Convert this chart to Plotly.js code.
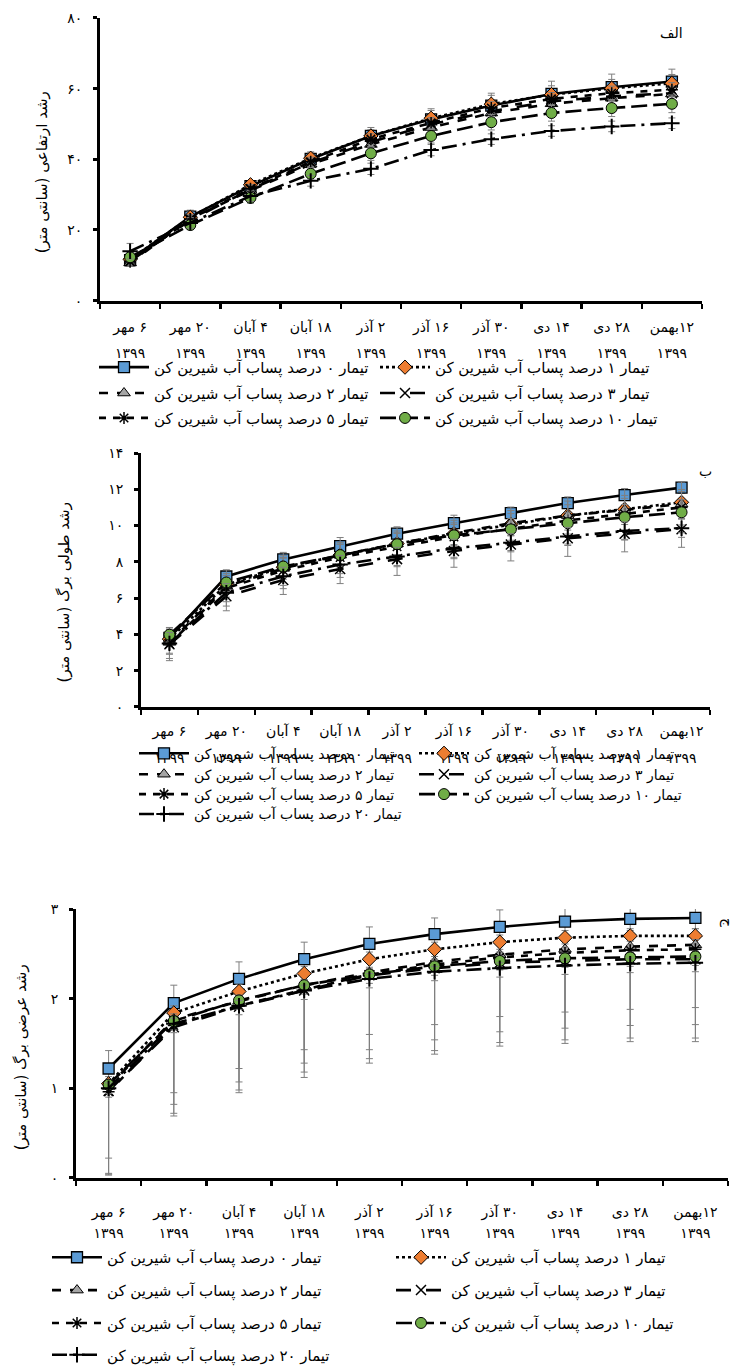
<!DOCTYPE html>
<html><head><meta charset="utf-8">
<script src="https://cdn.plot.ly/plotly-3.0.1.min.js"></script>
<style>html,body{margin:0;padding:0;background:#fff}</style>
</head><body><div id="chart" style="width:738px;height:1372px"></div>
<script>
// ---------- data ----------
const dateLabels = ['۶ مهر','۲۰ مهر','۴ آبان','۱۸ آبان','۲ آذر','۱۶ آذر','۳۰ آذر','۱۴ دی','۲۸ دی','۱۲بهمن'];
const yearLabels = ['۱۳۹۹','۱۳۹۹','۱۳۹۹','۱۳۹۹','۱۳۹۹','۱۳۹۹','۱۳۹۹','۱۳۹۹','۱۳۹۹','۱۳۹۹'];
const seriesNames = [
  'تیمار ۰ درصد پساب آب شیرین کن',
  'تیمار ۱ درصد پساب آب شیرین کن',
  'تیمار ۲ درصد پساب آب شیرین کن',
  'تیمار ۳ درصد پساب آب شیرین کن  ',
  'تیمار ۵ درصد پساب آب شیرین کن',
  'تیمار ۱۰ درصد پساب آب شیرین کن',
  'تیمار ۲۰ درصد پساب آب شیرین کن'
];
const panelLabels = ['الف','ب','ج'];
const yTitles = ['رشد ارتفاعی (سانتی متر)','رشد طولی برگ (سانتی متر)','رشد عرضی برگ (سانتی متر)'];

const yTickValsA = [0,20,40,60,80];
const yTickTextA = ['۰','۲۰','۴۰','۶۰','۸۰'];
const yTickValsB = [0,2,4,6,8,10,12,14];
const yTickTextB = ['۰','۲','۴','۶','۸','۱۰','۱۲','۱۴'];
const yTickValsC = [0,1,2,3];
const yTickTextC = ['۰','۱','۲','۳'];

// Panel A: plant height (cm)
const heightT0  = [11.5, 23.8, 32.4, 40.1, 46.6, 51.3, 55.2, 58.5, 60.4, 62.0];
const heightT1  = [11.7, 23.6, 32.8, 40.3, 46.6, 51.6, 55.6, 58.3, 60.1, 61.5];
const heightT2  = [10.7, 23.2, 31.2, 38.6, 44.2, 49.0, 53.1, 55.7, 57.3, 58.5];
const heightT3  = [11.2, 22.8, 31.5, 39.0, 44.9, 49.9, 53.6, 56.4, 57.8, 58.7];
const heightT5  = [11.0, 23.1, 31.7, 39.3, 45.7, 50.3, 54.5, 57.1, 58.7, 59.7];
const heightT10 = [12.3, 21.4, 29.1, 35.9, 41.7, 46.6, 50.5, 53.1, 54.5, 55.7];
const heightT20 = [14.0, 22.0, 29.6, 33.9, 37.3, 42.6, 45.7, 48.0, 49.3, 50.2];
const heightErrT0  = [1.5, 1.8, 1.4, 2.0, 2.4, 3.0, 3.5, 3.6, 3.7, 3.5];
const heightErrT1  = [1.2, 1.5, 1.2, 1.5, 1.8, 2.2, 2.5, 2.5, 2.5, 2.5];
const heightErrT2  = [1.0, 1.2, 1.2, 1.3, 1.5, 1.5, 1.8, 1.8, 2.0, 2.0];
const heightErrT3  = [1.0, 1.2, 1.2, 1.3, 1.5, 1.5, 1.8, 1.8, 2.0, 2.0];
const heightErrT5  = [1.0, 1.2, 1.2, 1.3, 1.5, 1.5, 1.8, 1.8, 2.0, 2.0];
const heightErrT10 = [1.2, 1.3, 1.5, 1.8, 2.0, 2.0, 2.2, 2.3, 2.4, 2.5];
const heightErrT20 = [2.2, 1.5, 1.5, 1.5, 1.6, 1.6, 1.5, 1.5, 1.5, 1.5];

// Panel B: leaf length (cm)
const lengthT0  = [3.80, 7.19, 8.13, 8.86, 9.55, 10.13, 10.68, 11.24, 11.68, 12.09];
const lengthT1  = [3.74, 6.74, 7.70, 8.37, 9.00, 9.55, 10.06, 10.55, 10.90, 11.28];
const lengthT2  = [3.56, 6.65, 7.64, 8.37, 9.00, 9.59, 10.13, 10.55, 10.86, 11.19];
const lengthT3  = [3.45, 6.10, 7.00, 7.60, 8.15, 8.60, 8.95, 9.30, 9.55, 9.80];
const lengthT5  = [3.47, 6.56, 7.52, 8.24, 8.83, 9.37, 9.82, 10.28, 10.64, 11.00];
const lengthT10 = [3.98, 6.86, 7.74, 8.37, 8.97, 9.46, 9.79, 10.13, 10.46, 10.73];
const lengthT20 = [3.50, 6.30, 7.20, 7.85, 8.30, 8.75, 9.05, 9.40, 9.70, 9.85];
const lengthErrT0  = [0.4, 0.3, 0.3, 0.3, 0.3, 0.3, 0.3, 0.3, 0.3, 0.3];
const lengthErrT1  = [0.4, 0.5, 0.5, 0.6, 0.6, 0.6, 0.6, 0.6, 0.6, 0.6];
const lengthErrT2  = [0.6, 0.6, 0.6, 0.7, 0.7, 0.7, 0.7, 0.8, 0.8, 0.8];
const lengthErrT3  = [0.9, 0.8, 0.8, 0.8, 0.9, 0.9, 0.9, 1.0, 1.0, 1.0];
const lengthErrT5  = [0.8, 1.0, 1.0, 1.1, 1.1, 1.2, 1.2, 1.3, 1.4, 1.4];
const lengthErrT10 = [0.4, 0.5, 0.6, 0.6, 0.6, 0.6, 0.6, 0.6, 0.7, 0.7];
const lengthErrT20 = [0.6, 0.5, 0.5, 0.5, 0.5, 0.5, 0.5, 0.5, 0.5, 0.5];

// Panel C: leaf width (cm)
const widthT0  = [1.22, 1.95, 2.22, 2.44, 2.61, 2.72, 2.80, 2.86, 2.89, 2.90];
const widthT1  = [1.05, 1.84, 2.08, 2.28, 2.44, 2.55, 2.63, 2.68, 2.70, 2.70];
const widthT2  = [1.02, 1.77, 1.97, 2.15, 2.29, 2.41, 2.49, 2.55, 2.58, 2.60];
const widthT3  = [0.97, 1.68, 1.91, 2.09, 2.26, 2.34, 2.40, 2.42, 2.44, 2.44];
const widthT5  = [0.96, 1.70, 1.92, 2.10, 2.27, 2.38, 2.46, 2.51, 2.54, 2.55];
const widthT10 = [1.04, 1.75, 1.98, 2.15, 2.27, 2.36, 2.42, 2.45, 2.46, 2.47];
const widthT20 = [1.00, 1.72, 1.92, 2.09, 2.22, 2.30, 2.34, 2.37, 2.39, 2.40];
const widthErrUpT0  = [0.20, 0.20, 0.19, 0.19, 0.19, 0.18, 0.19, 0.16, 0.13, 0.12];
const widthErrUpT1  = [0.08, 0.08, 0.08, 0.08, 0.08, 0.08, 0.08, 0.08, 0.08, 0.08];
const widthErrUpT2  = [0.06, 0.06, 0.06, 0.06, 0.06, 0.06, 0.06, 0.06, 0.06, 0.06];
const widthErrUpT3  = [0.06, 0.06, 0.06, 0.06, 0.06, 0.06, 0.06, 0.06, 0.06, 0.06];
const widthErrUpT5  = [0.06, 0.06, 0.06, 0.06, 0.06, 0.06, 0.06, 0.06, 0.06, 0.06];
const widthErrUpT10 = [0.06, 0.06, 0.06, 0.06, 0.06, 0.06, 0.06, 0.06, 0.06, 0.06];
const widthErrUpT20 = [0.06, 0.06, 0.06, 0.06, 0.06, 0.06, 0.06, 0.06, 0.06, 0.06];
const widthErrDnT0  = [0.20, 0.20, 0.19, 0.19, 0.19, 0.18, 0.19, 0.16, 0.13, 0.12];
const widthErrDnT1  = [0.83, 0.89, 0.86, 0.85, 0.84, 0.84, 0.83, 0.83, 0.82, 0.80];
const widthErrDnT2  = [0.97, 0.95, 0.90, 0.87, 0.86, 0.87, 0.86, 0.88, 0.88, 0.89];
const widthErrDnT3  = [0.94, 0.99, 0.96, 0.97, 0.98, 0.96, 0.93, 0.92, 0.92, 0.92];
const widthErrDnT5  = [0.92, 0.98, 0.94, 0.92, 0.94, 0.96, 0.95, 0.97, 0.98, 0.99];
const widthErrDnT10 = [0.10, 0.10, 0.10, 0.10, 0.10, 0.10, 0.10, 0.10, 0.10, 0.10];
const widthErrDnT20 = [0.10, 0.10, 0.10, 0.10, 0.10, 0.10, 0.10, 0.10, 0.10, 0.10];

// ---------- build ----------
const W = 738, H = 1372;
const px = v => v / W;
const py = v => 1 - v / H;
const xIdx = dateLabels.map((_, i) => i);
const bounds = [-0.5].concat(xIdx.map(i => i + 0.5));
// right-to-left embedding so Persian strings are laid out as in the reference
const rtl = s => '\u202B' + s + '\u202C';
const dateTickText = dateLabels.map(rtl);

const FONT = 'DejaVu Sans, Noto Sans, sans-serif';
const styles = [
  {dash:'solid', symbol:'square', color:'#5B9BD5', size:11, lw:1.3},
  {dash:'dot', symbol:'diamond', color:'#ED7D31', size:11, lw:1},
  {dash:'dash', symbol:'triangle-up', color:'#A5A5A5', size:11, lw:1},
  {dash:'longdash', symbol:'x-thin-open', color:'#000', size:10, lw:1.5},
  {dash:'7px,7px', symbol:'asterisk-open', color:'#000', size:10, lw:1.5},
  {dash:'16px,6px', symbol:'circle', color:'#70AD47', size:11, lw:1},
  {dash:'longdashdot', symbol:'cross-thin-open', color:'#000', size:11, lw:2}
];

const panels = [
  {series:[heightT0,heightT1,heightT2,heightT3,heightT5,heightT10,heightT20],
   errUp:[heightErrT0,heightErrT1,heightErrT2,heightErrT3,heightErrT5,heightErrT10,heightErrT20],
   errDn:[heightErrT0,heightErrT1,heightErrT2,heightErrT3,heightErrT5,heightErrT10,heightErrT20],
   inLegend:[true,true,true,true,true,true,false],
   xL:100, xR:702, yTop:18, yBot:302, range:[0,80], tv:yTickValsA, tt:yTickTextA,
   dateOff:16, yearOff:42,
   legX:[100,381], legRows:[369,395,420], legFont:15,
   titleX:42, titleY:173, lblX:671, lblY:33, lblAngle:0},
  {series:[lengthT0,lengthT1,lengthT2,lengthT3,lengthT5,lengthT10,lengthT20],
   errUp:[lengthErrT0,lengthErrT1,lengthErrT2,lengthErrT3,lengthErrT5,lengthErrT10,lengthErrT20],
   errDn:[lengthErrT0,lengthErrT1,lengthErrT2,lengthErrT3,lengthErrT5,lengthErrT10,lengthErrT20],
   inLegend:[true,true,true,true,true,true,true],
   xL:141, xR:710, yTop:455, yBot:710, range:[0,14], tv:yTickValsB, tt:yTickTextB,
   dateOff:14, yearOff:41,
   legX:[140,420], legRows:[757,778,798,818], legFont:14,
   titleX:64, titleY:595, lblX:705, lblY:473, lblAngle:0},
  {series:[widthT0,widthT1,widthT2,widthT3,widthT5,widthT10,widthT20],
   errUp:[widthErrUpT0,widthErrUpT1,widthErrUpT2,widthErrUpT3,widthErrUpT5,widthErrUpT10,widthErrUpT20],
   errDn:[widthErrDnT0,widthErrDnT1,widthErrDnT2,widthErrDnT3,widthErrDnT5,widthErrDnT10,widthErrDnT20],
   inLegend:[true,true,true,true,true,true,true],
   xL:76, xR:728, yTop:913, yBot:1183, range:[0,3], tv:yTickValsC, tt:yTickTextC,
   dateOff:24, yearOff:45,
   legX:[53,397], legRows:[1263,1296,1329,1361], legFont:15,
   titleX:21, titleY:1062, lblX:727, lblY:927, lblAngle:90}
];

const data = [];
const layout = {
  width: W, height: H, margin:{l:0,r:0,t:0,b:0},
  paper_bgcolor:'#fff', plot_bgcolor:'rgba(0,0,0,0)',
  font:{family:FONT, color:'#000', size:13},
  showlegend:true, annotations:[]
};
let legendCount = 0;

panels.forEach((p, pi) => {
  const yId = pi === 0 ? 'y' : 'y' + (pi + 1);
  const yKey = pi === 0 ? 'yaxis' : 'yaxis' + (pi + 1);
  const xBase = pi * 3 + 1;
  const xIdMain = xBase === 1 ? 'x' : 'x' + xBase;
  const xKeyMain = xBase === 1 ? 'xaxis' : 'xaxis' + xBase;
  const xDom = [px(p.xL), px(p.xR)];
  layout[yKey] = {
    domain:[py(p.yBot), py(p.yTop)], anchor:xIdMain, range:p.range,
    tickmode:'array', tickvals:p.tv, ticktext:p.tt,
    showline:true, linecolor:'#000', linewidth:3, ticks:'outside', ticklen:4, tickwidth:3, tickcolor:'#000',
    showgrid:false, zeroline:false, tickfont:{size:14, family:FONT}, ticklabelstandoff:8, fixedrange:true
  };
  layout[xKeyMain] = {
    domain:xDom, anchor:yId, range:[-0.5, 9.5],
    tickmode:'array', tickvals:bounds, showticklabels:false,
    showline:true, linecolor:'#000', linewidth:3, ticks:'outside', ticklen:5, tickwidth:2.5, tickcolor:'#000',
    showgrid:false, zeroline:false, fixedrange:true
  };
  const xIdDate = 'x' + (xBase + 1), xIdYear = 'x' + (xBase + 2);
  layout['xaxis' + (xBase + 1)] = {
    domain:xDom, anchor:yId, overlaying:xIdMain, range:[-0.5, 9.5],
    tickmode:'array', tickvals:xIdx, ticktext:dateTickText, ticks:'', showline:false,
    showgrid:false, zeroline:false, tickfont:{size:14, family:FONT}, ticklabelstandoff:p.dateOff, tickangle:0, fixedrange:true
  };
  layout['xaxis' + (xBase + 2)] = {
    domain:xDom, anchor:yId, overlaying:xIdMain, range:[-0.5, 9.5],
    tickmode:'array', tickvals:xIdx, ticktext:yearLabels, ticks:'', showline:false,
    showgrid:false, zeroline:false, tickfont:{size:14, family:FONT}, ticklabelstandoff:p.yearOff, tickangle:0, fixedrange:true
  };
  // invisible carrier traces so that the label axes are drawn
  [xIdDate, xIdYear].forEach(xid => data.push({
    type:'scatter', mode:'markers', x:xIdx, y:p.series[0], xaxis:xid, yaxis:yId,
    marker:{opacity:0, size:1}, showlegend:false, hoverinfo:'skip'
  }));

  p.series.forEach((vals, si) => {
    const st = styles[si];
    const tr = {
      type:'scatter', mode:'lines+markers', x:xIdx, y:vals, xaxis:xIdMain, yaxis:yId,
      name:rtl(seriesNames[si]), showlegend:p.inLegend[si], cliponaxis:true,
      line:{color:'#000', width:2.6, dash:st.dash},
      marker:{symbol:st.symbol, size:st.size, color:st.color, line:{color:'#000', width:st.lw}},
      error_y:{type:'data', array:p.errUp[si], arrayminus:p.errDn[si], symmetric:false, visible:true,
               color:'#7f7f7f', thickness:1, width:3.5}
    };
    if (p.inLegend[si]) {
      legendCount++;
      const lk = legendCount === 1 ? 'legend' : 'legend' + legendCount;
      tr.legend = lk;
      const col = si % 2, row = Math.floor(si / 2);
      layout[lk] = {
        x:px(p.legX[col] - 6), y:py(p.legRows[row]), xanchor:'left', yanchor:'middle',
        orientation:'h', bgcolor:'rgba(0,0,0,0)', borderwidth:0, itemwidth:50,
        font:{size:p.legFont, family:FONT, color:'#000'}, itemclick:false, itemdoubleclick:false
      };
    }
    data.push(tr);
  });

  layout.annotations.push({
    text:rtl(yTitles[pi]), xref:'paper', yref:'paper', x:px(p.titleX), y:py(p.titleY),
    xanchor:'center', yanchor:'middle', showarrow:false, textangle:-90,
    font:{size:15, family:FONT, color:'#000'}
  });
  layout.annotations.push({
    text:panelLabels[pi], xref:'paper', yref:'paper', x:px(p.lblX), y:py(p.lblY),
    xanchor:'center', yanchor:'middle', showarrow:false, textangle:p.lblAngle,
    font:{size:14, family:FONT, color:'#000'}
  });
});

Plotly.newPlot('chart', data, layout, {displayModeBar:false, staticPlot:true});
</script>
</body></html>
